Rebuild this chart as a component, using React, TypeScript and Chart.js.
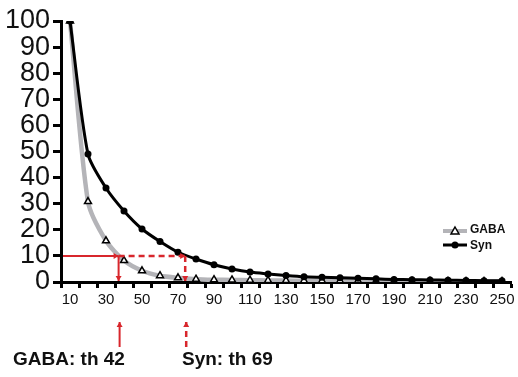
import React, { useEffect, useRef } from "react";
import { Chart, registerables } from "chart.js";

Chart.register(...registerables);

const categories = ["10","20","30","40","50","60","70","80","90","100","110","120","130","140","150","160","170","180","190","200","210","220","230","240","250"];
const synValues = [100, 49, 36, 27.2, 20.3, 15.5, 11.4, 8.8, 6.6, 5.0, 3.8, 3.1, 2.5, 2.0, 1.8, 1.6, 1.4, 1.2, 1.0, 0.9, 0.8, 0.7, 0.6, 0.5, 0.5];
const gabaValues = [100, 30.8, 15.8, 8.2, 4.3, 2.4, 1.6, 1.1, 0.9, 0.8, 0.7, 0.6, 0.55, 0.5, 0.45, 0.4, 0.4, 0.35, 0.3, 0.3, 0.25, 0.25, 0.2, 0.2, 0.2];
const yTicks = [0, 10, 20, 30, 40, 50, 60, 70, 80, 90, 100];
const thresholdLevel = 10;
const gabaCrossX = 37;
const synCrossX = 74;
const gabaLabel = "GABA: th 42";
const synLabel = "Syn: th 69";
const seriesNames = ["GABA", "Syn"];

const RED = "#d8262c";
const GREY = "#b4b4b8";
const FONT = "'Liberation Sans', Arial, sans-serif";

function drawLine(ctx: CanvasRenderingContext2D, x1: number, y1: number, x2: number, y2: number, dashed: boolean, arrowAtEnd: boolean) {
  ctx.save();
  ctx.strokeStyle = RED;
  ctx.fillStyle = RED;
  ctx.lineWidth = dashed ? 2.5 : 2;
  ctx.setLineDash(dashed ? [6, 4] : []);
  ctx.beginPath();
  ctx.moveTo(x1, y1);
  ctx.lineTo(x2, y2);
  ctx.stroke();
  if (arrowAtEnd) {
    const ang = Math.atan2(y2 - y1, x2 - x1);
    const s = 5;
    ctx.setLineDash([]);
    ctx.beginPath();
    ctx.moveTo(x2, y2);
    ctx.lineTo(x2 - s * Math.cos(ang) + (s * 0.6) * Math.sin(ang), y2 - s * Math.sin(ang) - (s * 0.6) * Math.cos(ang));
    ctx.lineTo(x2 - s * Math.cos(ang) - (s * 0.6) * Math.sin(ang), y2 - s * Math.sin(ang) + (s * 0.6) * Math.cos(ang));
    ctx.closePath();
    ctx.fill();
  }
  ctx.restore();
}

const annotationPlugin = {
  id: "thresholds",
  afterDatasetsDraw(chart: any) {
    const ctx = chart.ctx as CanvasRenderingContext2D;
    const xs = chart.scales.x;
    const ys = chart.scales.y;
    const toIdx = (v: number) => (v - Number(categories[0])) / 10;
    const gx = xs.getPixelForValue(toIdx(gabaCrossX));
    const sx = xs.getPixelForValue(toIdx(synCrossX));
    const y10 = ys.getPixelForValue(thresholdLevel);
    const y0 = ys.getPixelForValue(0);
    const left = chart.chartArea.left;
    drawLine(ctx, left + 2, y10, gx, y10, false, true);
    drawLine(ctx, gx, y10, gx, y0 - 1, false, true);
    drawLine(ctx, gx, y10, sx, y10, true, true);
    drawLine(ctx, sx, y10, sx, y0 - 1, true, true);
    drawLine(ctx, gx + 1, 347, gx + 1, 322, false, true);
    drawLine(ctx, sx + 1, 347, sx + 1, 322, true, true);
    ctx.save();
    ctx.fillStyle = "#111";
    ctx.font = `bold 19px ${FONT}`;
    ctx.textBaseline = "middle";
    ctx.textAlign = "left";
    ctx.fillText(gabaLabel, 13, 360);
    ctx.fillText(synLabel, 182, 360);
    ctx.restore();

    ctx.save();
    const lx1 = 443, lx2 = 467;
    const gy = 231, syy = 245;
    ctx.strokeStyle = GREY;
    ctx.lineWidth = 4;
    ctx.beginPath(); ctx.moveTo(lx1, gy); ctx.lineTo(lx2, gy); ctx.stroke();
    const cx = (lx1 + lx2) / 2;
    ctx.fillStyle = "#fff";
    ctx.strokeStyle = "#000";
    ctx.lineWidth = 1.5;
    ctx.beginPath();
    ctx.moveTo(cx, gy - 4); ctx.lineTo(cx + 4, gy + 3); ctx.lineTo(cx - 4, gy + 3); ctx.closePath();
    ctx.fill(); ctx.stroke();
    ctx.strokeStyle = "#000";
    ctx.lineWidth = 3;
    ctx.beginPath(); ctx.moveTo(lx1, syy); ctx.lineTo(lx2, syy); ctx.stroke();
    ctx.fillStyle = "#000";
    ctx.beginPath(); ctx.arc(cx, syy, 3.5, 0, Math.PI * 2); ctx.fill();
    ctx.fillStyle = "#111";
    ctx.font = `bold 12px ${FONT}`;
    ctx.textBaseline = "middle";
    ctx.fillText(seriesNames[0], 470, gy - 1);
    ctx.fillText(seriesNames[1], 470, syy + 1);
    ctx.restore();
  },
};

export default function App() {
  const ref = useRef<HTMLCanvasElement>(null);
  useEffect(() => {
    document.body.style.margin = "0";
    const chart = new Chart(ref.current!, {
      type: "line",
      data: {
        labels: categories,
        datasets: [
          {
            label: seriesNames[1],
            data: synValues,
            borderColor: "#000",
            borderWidth: 3,
            pointStyle: "circle",
            pointRadius: 3.5,
            pointBackgroundColor: "#000",
            pointBorderColor: "#000",
            pointBorderWidth: 0,
            tension: 0.25,
          },
          {
            label: seriesNames[0],
            data: gabaValues,
            borderColor: GREY,
            borderWidth: 4.5,
            pointStyle: "triangle",
            pointRadius: 4,
            pointBackgroundColor: "#fff",
            pointBorderColor: "#000",
            pointBorderWidth: 1.5,
            tension: 0.25,
          },
        ],
      },
      options: {
        animation: false,
        responsive: false,
        devicePixelRatio: 1,
        layout: { padding: { top: 21, right: 7, left: 0, bottom: 0 } },
        plugins: { legend: { display: false }, tooltip: { enabled: false } },
        scales: {
          x: {
            type: "category",
            offset: true,
            afterFit: (s: any) => { s.height = 377 - 282; },
            border: { display: true, color: "#000", width: 3 },
            grid: { offset: true, drawOnChartArea: false, drawTicks: true, tickLength: 6, tickWidth: 3, tickColor: "#000" },
            ticks: {
              autoSkip: false,
              maxRotation: 0,
              padding: 3,
              color: "#111",
              font: { family: FONT, size: 15 },
              callback: (_v: any, i: number) => (i % 2 === 0 ? categories[i] : ""),
            },
          },
          y: {
            min: yTicks[0],
            max: yTicks[yTicks.length - 1],
            afterFit: (s: any) => { s.width = 61; },
            afterBuildTicks: (s: any) => { s.ticks = yTicks.map((v) => ({ value: v })); },
            border: { display: true, color: "#000", width: 3 },
            grid: { drawOnChartArea: false, drawTicks: true, tickLength: 8, tickWidth: 3, tickColor: "#000" },
            ticks: {
              autoSkip: false,
              padding: 3,
              color: "#111",
              font: { family: FONT, size: 27 },
            },
          },
        },
      },
      plugins: [annotationPlugin],
    } as any);
    return () => chart.destroy();
  }, []);
  return <canvas ref={ref} width={518} height={377} style={{ display: "block" }} />;
}
